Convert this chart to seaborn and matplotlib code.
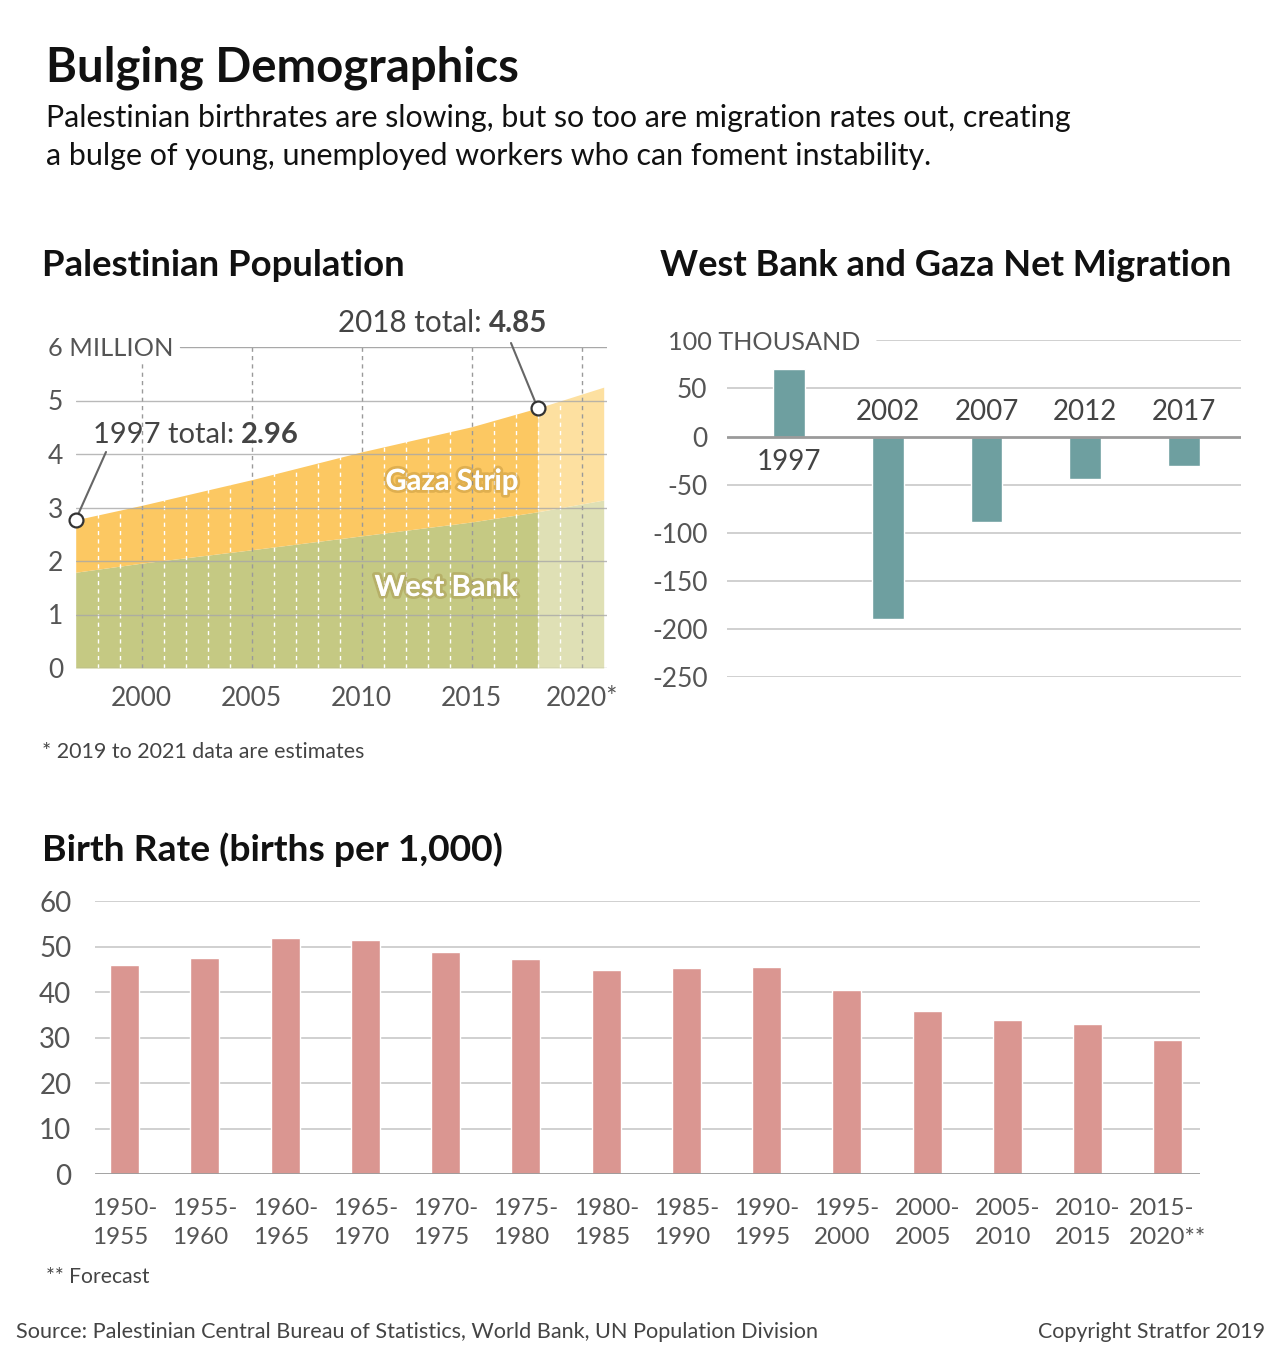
import matplotlib
matplotlib.use("Agg")
import matplotlib.pyplot as plt
import matplotlib.patheffects as pe
import matplotlib.transforms as mtransforms
import numpy as np
import seaborn as sns

# --- data ---
pop_years = [1997, 2000, 2005, 2010, 2015, 2018, 2021]
west_bank = [1.79, 1.96, 2.21, 2.47, 2.73, 2.92, 3.14]
gaza = [0.98, 1.08, 1.31, 1.57, 1.78, 1.94, 2.11]
estimate_start = 2018
pop_ticks = [2000, 2005, 2010, 2015, 2020]
pop_tick_labels = ["2000", "2005", "2010", "2015", "2020*"]

mig_years = ["1997", "2002", "2007", "2012", "2017"]
mig_values = [70, -189, -89, -44, -31]

birth_periods = ["1950-\n1955", "1955-\n1960", "1960-\n1965", "1965-\n1970",
                 "1970-\n1975", "1975-\n1980", "1980-\n1985", "1985-\n1990",
                 "1990-\n1995", "1995-\n2000", "2000-\n2005", "2005-\n2010",
                 "2010-\n2015", "2015-\n2020**"]
birth_rates = [46.0, 47.5, 51.9, 51.5, 48.8, 47.2, 44.9, 45.2, 45.6, 40.5,
               35.8, 33.9, 33.1, 29.5]

sns.set_theme(style="white")
plt.rcParams["font.family"] = ["Lato", "DejaVu Sans"]

W, H = 1280, 1358
fig = plt.figure(figsize=(W / 100, H / 100), dpi=100)


def fx(px):
    return px / W


def fy(py):
    return 1 - py / H


def box(left, top, right, bottom):
    return [fx(left), fy(bottom), (right - left) / W, (bottom - top) / H]


TICK = "#555555"
GRID = "#c8c8c8"
BASE = "#9a9a9a"
TS = 19  # tick label size

# --- header ---
fig.text(fx(46), fy(82), "Bulging Demographics", fontsize=34, fontweight="bold",
         color="#111111", va="baseline")
fig.text(fx(46), fy(127), "Palestinian birthrates are slowing, but so too are migration rates out, creating",
         fontsize=21.9, color="#111111", va="baseline")
fig.text(fx(46), fy(165), "a bulge of young, unemployed workers who can foment instability.",
         fontsize=21.9, color="#111111", va="baseline")

fig.text(fx(42), fy(276), "Palestinian Population", fontsize=26.3, fontweight="bold",
         color="#111111", va="baseline")
fig.text(fx(660), fy(276), "West Bank and Gaza Net Migration", fontsize=26.1,
         fontweight="bold", color="#111111", va="baseline")
fig.text(fx(42), fy(861), "Birth Rate (births per 1,000)", fontsize=26.8,
         fontweight="bold", color="#111111", va="baseline")

# --- population area chart ---
ax1 = fig.add_axes(box(75.7, 347, 607, 668))
yrs = np.array(pop_years)
wb = np.array(west_bank)
total = wb + np.array(gaza)
split = pop_years.index(estimate_start)

sns.lineplot(x=yrs, y=total, ax=ax1, color="#fcc862", lw=0)
obs = slice(0, split + 1)
est = slice(split, None)
ax1.fill_between(yrs[obs], 0, wb[obs], color="#c5c983", lw=0, zorder=1)
ax1.fill_between(yrs[obs], wb[obs], total[obs], color="#fcc862", lw=0, zorder=1)
ax1.fill_between(yrs[est], 0, wb[est], color="#dfe0b5", lw=0, zorder=1)
ax1.fill_between(yrs[est], wb[est], total[est], color="#fde0a0", lw=0, zorder=1)
clip_area = ax1.fill_between(yrs, 0, total, color="none", lw=0)

year_lines = [y for y in range(1998, 2021) if y % 5 != 0]
vl = ax1.vlines(year_lines, 0, 6, colors="white", lw=1, linestyles=(0, (3, 3)), zorder=2)
vl.set_clip_path(clip_area.get_paths()[0], transform=ax1.transData)
ax1.vlines(pop_ticks, 0, 6, colors="#9a9a9a", lw=1, linestyles=(0, (3, 3)), zorder=2)

for v in range(0, 6):
    ax1.axhline(v, color="#a8a8a8", lw=1, alpha=0.8, zorder=3)
ax1.axhline(6, xmin=(180 - 75.7) / (607 - 75.7), color="#a8a8a8", lw=1, zorder=3)

ax1.set_xlim(1997, 2021.15)
ax1.set_ylim(0, 6)
ax1.set_yticks(range(0, 6))
ax1.set_yticklabels([str(v) for v in range(0, 6)])
ax1.set_xticks(pop_ticks)
ax1.set_xticklabels(pop_tick_labels)
ax1.tick_params(axis="y", length=0, pad=9, labelsize=TS, labelcolor=TICK)
ax1.tick_params(axis="x", length=0, pad=13, labelsize=TS, labelcolor=TICK)
ax1.set_xlabel("")
ax1.set_ylabel("")
for s in ax1.spines.values():
    s.set_visible(False)
ax1.set_facecolor("none")

tr1 = mtransforms.blended_transform_factory(fig.transFigure, ax1.transData)
ax1.text(fx(48), 6, "6 MILLION", transform=tr1, fontsize=18.3, color=TICK,
         va="center_baseline", ha="left", zorder=5,
         bbox=dict(boxstyle="square,pad=0.15", fc="white", ec="none"))

shadow = [pe.withStroke(linewidth=4, foreground=(0.55, 0.4, 0.1, 0.25))]
fig.text(fx(452), fy(482), "Gaza Strip", fontsize=21, fontweight="bold", color="white",
         ha="center", va="center", path_effects=shadow)
fig.text(fx(446), fy(588), "West Bank", fontsize=21, fontweight="bold", color="white",
         ha="center", va="center", path_effects=shadow)

i18 = pop_years.index(2018)
ax1.plot([pop_years[0], pop_years[i18]], [total[0], total[i18]], ls="none",
         marker="o", ms=10, mfc="white", mec="#333333", mew=1.6, clip_on=False, zorder=6)
ax1.annotate("", xy=(pop_years[0], total[0]), xytext=(fx(106), fy(452)),
             textcoords="figure fraction",
             arrowprops=dict(arrowstyle="-", color="#666666", lw=1.5, shrinkA=0, shrinkB=5))
ax1.annotate("", xy=(pop_years[i18], total[i18]), xytext=(fx(511), fy(343)),
             textcoords="figure fraction",
             arrowprops=dict(arrowstyle="-", color="#666666", lw=1.5, shrinkA=0, shrinkB=5))

fig.canvas.draw()


def label_pair(x_px, base_px, normal, bold, size):
    t = fig.text(fx(x_px), fy(base_px), normal, fontsize=size, color="#444444",
                 va="baseline")
    bb = t.get_window_extent(renderer=fig.canvas.get_renderer())
    fig.text((bb.x1 + 7) / W, fy(base_px), bold, fontsize=size, fontweight="bold",
             color="#444444", va="baseline")


label_pair(93, 443, "1997 total:", "2.96", 21)
label_pair(338, 332, "2018 total:", "4.85", 21.3)

fig.text(fx(42), fy(758), "* 2019 to 2021 data are estimates", fontsize=15.4,
         color="#444444", va="baseline")

# --- migration bar chart ---
ax2 = fig.add_axes(box(727, 340.3, 1241, 677.3))
sns.barplot(x=mig_years, y=mig_values, color="#6e9fa0", saturation=1, width=0.32,
            ax=ax2, zorder=2)
for v in [100, 50, -50, -100, -150, -200, -250]:
    xmin = (877 - 727) / (1241 - 727) if v == 100 else 0
    ax2.axhline(v, xmin=xmin, color=GRID, lw=1.2, zorder=1)
ax2.axhline(0, color=BASE, lw=2, zorder=3)
ax2.set_xlim(-0.63, 4.58)
ax2.set_ylim(-250, 100)
ax2.set_yticks([50, 0, -50, -100, -150, -200, -250])
ax2.set_yticklabels(["50", "0", "-50", "-100", "-150", "-200", "-250"])
ax2.set_xticks([])
ax2.tick_params(axis="y", length=0, pad=14, labelsize=TS, labelcolor=TICK)
ax2.set_xlabel("")
ax2.set_ylabel("")
for s in ax2.spines.values():
    s.set_visible(False)
tr2 = mtransforms.blended_transform_factory(fig.transFigure, ax2.transData)
ax2.text(fx(668), 100, "100 THOUSAND", transform=tr2, fontsize=18.2, color=TICK,
         va="center_baseline", ha="left")
for i, (yr, val) in enumerate(zip(mig_years, mig_values)):
    off = -18 if val > 0 else 18
    ax2.annotate(yr, xy=(i, 0), xytext=(0, off), textcoords="offset points",
                 ha="center", va="center", fontsize=20, color="#444444")

# --- birth rate bar chart ---
ax3 = fig.add_axes(box(95, 901, 1200, 1174.3))
sns.barplot(x=birth_periods, y=birth_rates, color="#da9691", saturation=1, width=0.36,
            ax=ax3, zorder=2)
for v in range(10, 70, 10):
    ax3.axhline(v, color=GRID, lw=1.2, zorder=1)
ax3.axhline(0, color=BASE, lw=2, zorder=3)
ax3.set_xlim(-0.37, 13.4)
ax3.set_ylim(0, 60)
ax3.set_yticks(range(0, 70, 10))
ax3.tick_params(axis="y", length=0, pad=17, labelsize=20, labelcolor=TICK)
ax3.tick_params(axis="x", length=0, pad=17, labelsize=17.5, labelcolor=TICK)
for lab in ax3.get_xticklabels():
    lab.set_multialignment("left")
    lab.set_linespacing(1.45)
ax3.set_xlabel("")
ax3.set_ylabel("")
for s in ax3.spines.values():
    s.set_visible(False)

fig.text(fx(46), fy(1283), "** Forecast", fontsize=15.2, color="#444444", va="baseline")
fig.text(fx(16), fy(1338), "Source: Palestinian Central Bureau of Statistics, World Bank, UN Population Division",
         fontsize=15.6, color="#444444", va="baseline")
fig.text(fx(1265), fy(1338), "Copyright Stratfor 2019", fontsize=15.4, color="#444444",
         va="baseline", ha="right")

fig.savefig("out.png", dpi=100, facecolor="white")
